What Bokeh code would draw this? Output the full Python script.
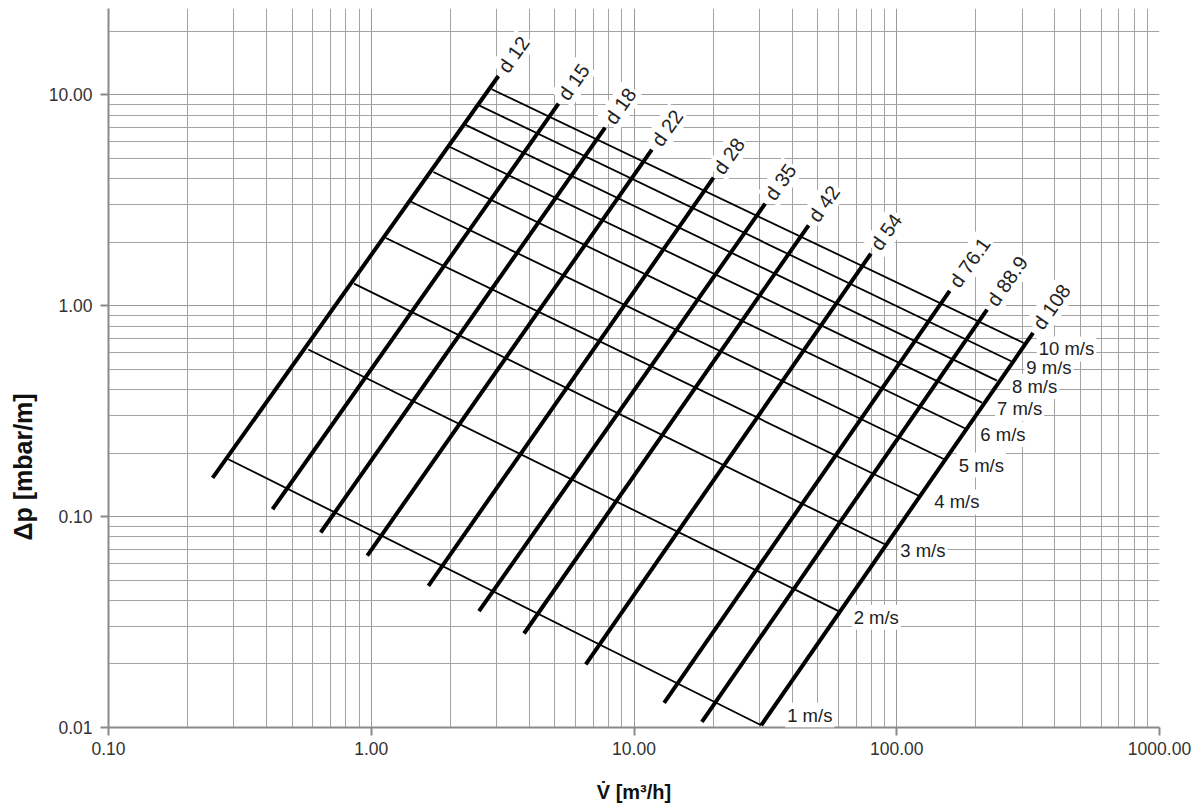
from bokeh.plotting import figure
from bokeh.models import Range1d, FixedTicker, PrintfTickFormatter, Label, ColumnDataSource, Title
from bokeh.embed import file_html
from bokeh.resources import INLINE

# ---- data ----
pipe_names = ["d 12", "d 15", "d 18", "d 22", "d 28", "d 35", "d 42", "d 54", "d 76.1", "d 88.9", "d 108"]
pipe_flow_low = [0.249, 0.421, 0.642, 0.966, 1.650, 2.571, 3.815, 6.553, 13.02, 18.13, 30.48]
pipe_dp_low = [0.1524, 0.1083, 0.0840, 0.0653, 0.0469, 0.0356, 0.0279, 0.0199, 0.01308, 0.01063, 0.01025]
pipe_flow_high = [3.048, 5.159, 7.762, 11.69, 20.08, 31.57, 46.18, 79.74, 159.0, 220.6, 330.2]
pipe_dp_high = [12.25, 9.066, 6.976, 5.487, 4.043, 3.044, 2.402, 1.764, 1.173, 0.9573, 0.7416]

vel_names = ["1 m/s", "2 m/s", "3 m/s", "4 m/s", "5 m/s", "6 m/s", "7 m/s", "8 m/s", "9 m/s", "10 m/s"]
vel_flow_start = [0.2857, 0.5759, 0.8594, 1.137, 1.404, 1.724, 1.994, 2.275, 2.571, 2.874]
vel_dp_start = [0.1869, 0.6189, 1.271, 2.091, 3.121, 4.297, 5.644, 7.208, 8.897, 10.60]
vel_flow_end = [30.48, 60.09, 90.41, 121.8, 150.9, 182.4, 211.1, 240.7, 272.9, 304.2]
vel_dp_end = [0.01025, 0.0356, 0.0737, 0.1252, 0.1873, 0.2613, 0.3469, 0.4411, 0.5445, 0.6648]

x_major = [0.1, 1, 10, 100, 1000]
y_major = [0.01, 0.1, 1, 10]
x_minor = [m * d for d in [0.1, 1, 10, 100] for m in range(2, 10)]
y_minor = [m * d for d in [0.01, 0.1, 1, 10] for m in range(2, 10) if m * d < 26]

x_title = "V\u0307 [m³/h]"
y_title = "Δp [mbar/m]"

FONT = "Liberation Sans"

p = figure(
    width=1200, height=812,
    frame_width=1051, frame_height=719,
    x_axis_type="log", y_axis_type="log",
    x_range=Range1d(0.1, 1000), y_range=Range1d(0.01, 25.6),
    output_backend="svg", toolbar_location=None,
    min_border_left=107, min_border_right=42, min_border_top=8, min_border_bottom=85,
)
p.outline_line_color = None
p.background_fill_color = "white"

xt = FixedTicker(ticks=x_major, minor_ticks=x_minor)
yt = FixedTicker(ticks=y_major, minor_ticks=y_minor)
p.xaxis.ticker = xt
p.yaxis.ticker = yt
p.xgrid.ticker = xt
p.ygrid.ticker = yt

for g in (p.xgrid, p.ygrid):
    g.grid_line_color = "#999999"
    g.grid_line_width = 1
    g.minor_grid_line_color = "#a3a3a3"
    g.minor_grid_line_width = 1

for ax in (p.xaxis, p.yaxis):
    ax.formatter = PrintfTickFormatter(format="%.2f")
    ax.axis_line_color = "#8a8a8a"
    ax.axis_line_width = 2
    ax.major_tick_line_color = "#8a8a8a"
    ax.major_tick_line_width = 2
    ax.major_tick_out = 8
    ax.major_tick_in = 0
    ax.minor_tick_out = 0
    ax.minor_tick_in = 0
    ax.major_label_text_font = FONT
    ax.major_label_text_font_size = "17.5px"
    ax.major_label_text_color = "#333333"
    ax.axis_label_text_font = FONT
    ax.axis_label_text_font_style = "bold"
    ax.axis_label_text_color = "#111111"

p.xaxis.major_label_standoff = 6
p.yaxis.major_label_standoff = 8
p.xaxis.axis_label = x_title
p.xaxis.axis_label_text_font_size = "20px"
p.xaxis.axis_label_standoff = 23

# y title as a side title so it can sit lower than the frame centre
p.add_layout(Title(
    text=y_title, align="left", offset=187, standoff=15, vertical_align="middle",
    text_font=FONT, text_font_style="bold", text_font_size="25px", text_color="#111111",
), "left")

# velocity lines (thin)
vsrc = ColumnDataSource(dict(
    xs=[[a, b] for a, b in zip(vel_flow_start, vel_flow_end)],
    ys=[[a, b] for a, b in zip(vel_dp_start, vel_dp_end)],
))
p.multi_line(xs="xs", ys="ys", source=vsrc, line_color="black", line_width=1.8)

# pipe lines (thick)
psrc = ColumnDataSource(dict(
    xs=[[a, b] for a, b in zip(pipe_flow_low, pipe_flow_high)],
    ys=[[a, b] for a, b in zip(pipe_dp_low, pipe_dp_high)],
))
p.multi_line(xs="xs", ys="ys", source=psrc, line_color="black", line_width=4)

# pipe labels, rotated along the lines
for name, xv, yv in zip(pipe_names, pipe_flow_high, pipe_dp_high):
    p.add_layout(Label(
        x=xv, y=yv, text=name, angle=55, angle_units="deg",
        x_offset=3, y_offset=4,
        text_align="left", text_baseline="middle",
        text_font=FONT, text_font_size="20px", text_color="#222222",
        background_fill_color="white", padding=2,
    ))

# velocity labels
for i, (name, xv, yv) in enumerate(zip(vel_names, vel_flow_end, vel_dp_end)):
    if i == 0:
        xo, yo = 24, 10   # lowest label sits above the x axis
    else:
        xo, yo = 13, -6
    p.add_layout(Label(
        x=xv, y=yv, text=name, x_offset=xo, y_offset=yo,
        text_align="left", text_baseline="middle",
        text_font=FONT, text_font_size="18.5px", text_color="#222222",
        background_fill_color="white", padding=2,
    ))

open("out.html", "w").write(file_html(p, INLINE))
